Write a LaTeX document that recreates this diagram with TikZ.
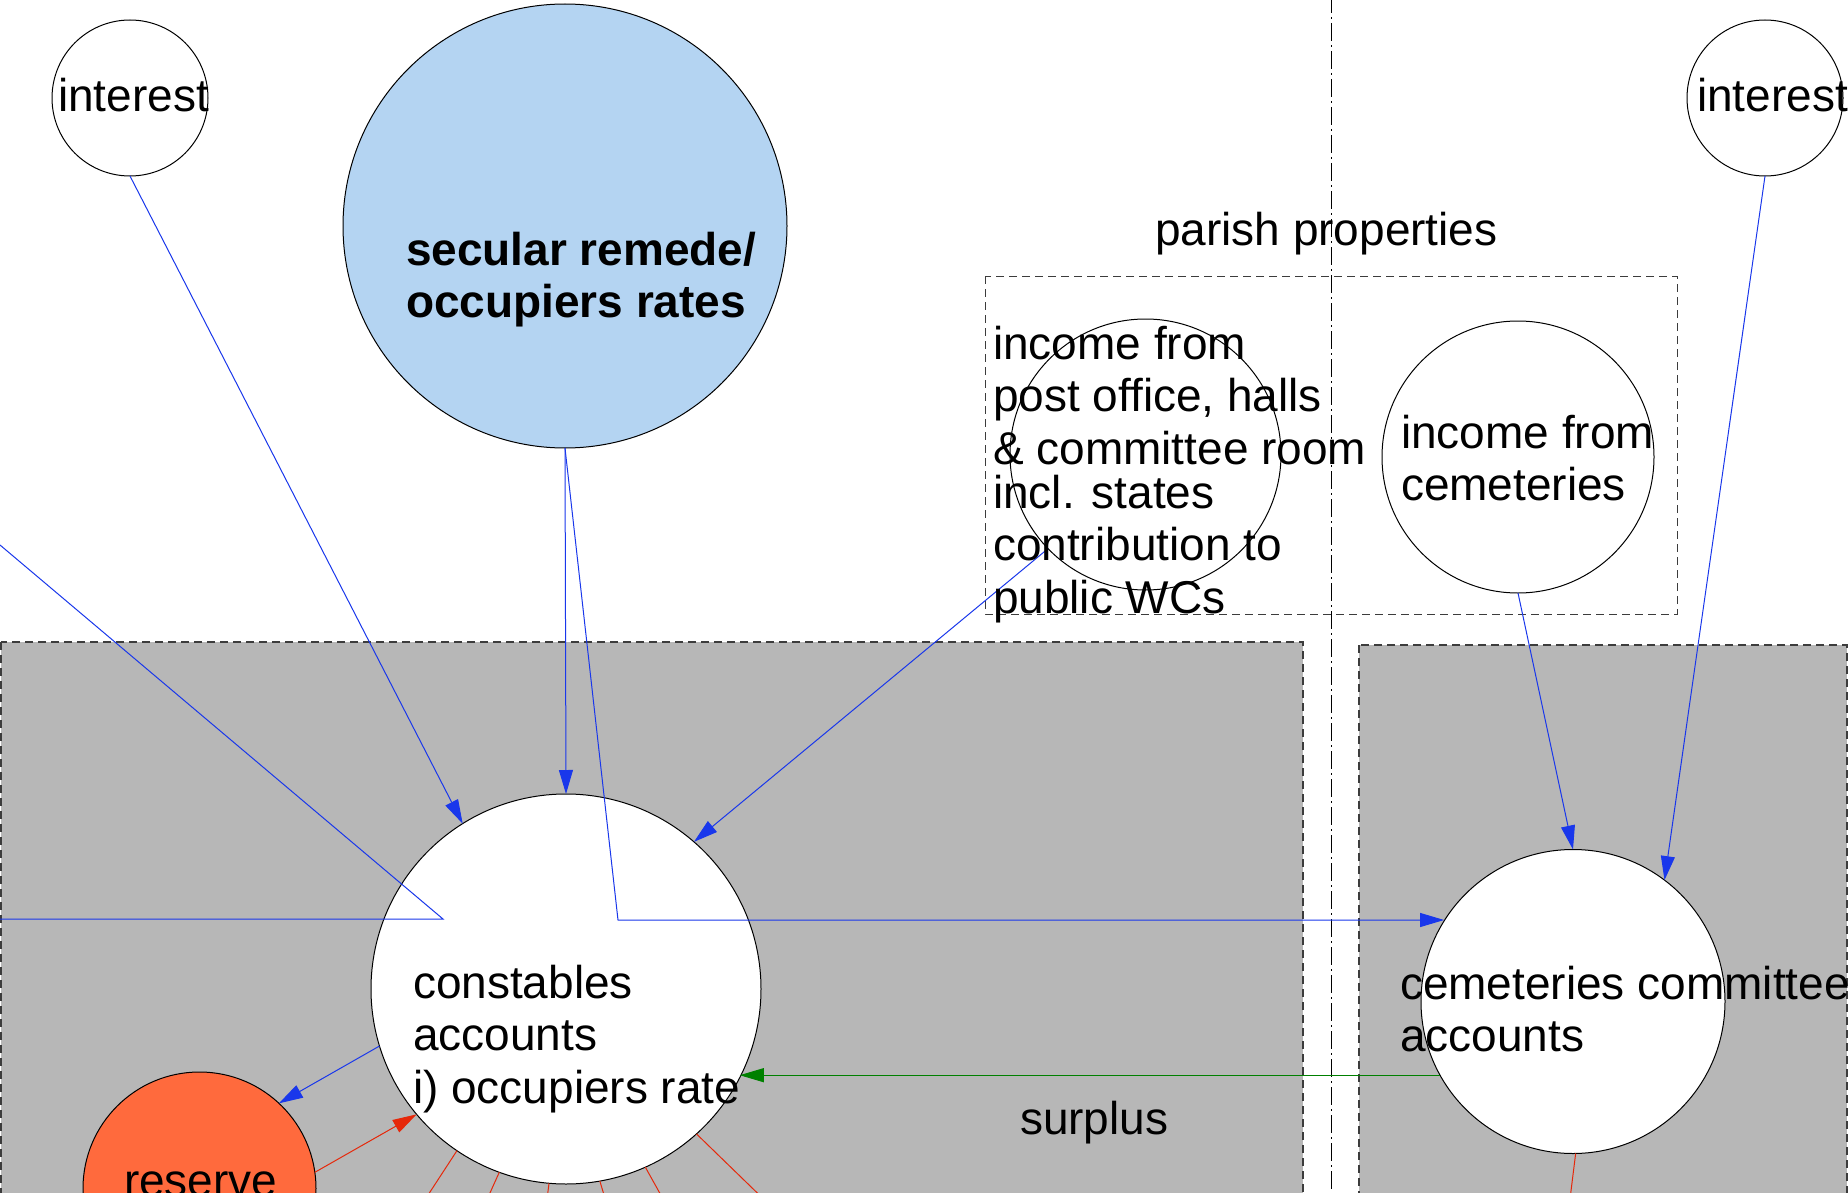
\documentclass[tikz,border=0pt]{standalone}
\usepackage{fontspec}
\setmainfont{Liberation Sans}
\usetikzlibrary{arrows.meta}
\definecolor{secblue}{RGB}{180,212,242}
\definecolor{boxgray}{RGB}{183,183,183}
\definecolor{lineblue}{RGB}{25,55,235}
\definecolor{linered}{RGB}{230,40,10}
\definecolor{linegreen}{RGB}{0,128,0}
\definecolor{resorange}{RGB}{255,106,61}
\definecolor{dashgray}{RGB}{60,60,60}
\newcommand\fsz{\fontsize{23}{26.25}\selectfont}
\begin{document}
\begin{tikzpicture}[x=0.5pt,y=-0.5pt,
  circ/.style={circle,draw=black,line width=0.5pt,fill=white,inner sep=0pt,outer sep=0pt},
  flow/.style={line width=0.5pt,-{Triangle[length=12pt,width=7pt]}},
  bflow/.style={flow,draw=lineblue},
  rflow/.style={flow,draw=linered},
  gflow/.style={flow,draw=linegreen},
  bline/.style={line width=0.5pt,draw=lineblue},
  rline/.style={line width=0.5pt,draw=linered},
  lbl/.style={anchor=base west,inner sep=0pt,outer sep=0pt,font=\fsz},
  grayzone/.style={fill=boxgray,draw=dashgray,line width=0.6pt,dash pattern=on 4pt off 2.5pt},
  propbox/.style={draw=dashgray,line width=0.5pt,dash pattern=on 4pt off 2.5pt},
  divider/.style={draw=black,line width=0.4pt,dash pattern=on 9pt off 2pt on 1pt off 2pt},
]
\useasboundingbox (0,0) rectangle (1848,1193);
\clip (0,0) rectangle (1848,1193);

% zones
\path[grayzone] (1,642) rectangle (1303,1215);
\path[grayzone] (1359,645) rectangle (1847,1215);
\path[propbox] (985,276) rectangle (1677,614);
\path[divider] (1331,-5) -- (1331,1200);

% circles
\node[circ,minimum size=78pt] (li) at (130,98) {};
\node[circ,minimum size=222pt,fill=secblue] (sec) at (565,226) {};
\node[circ,minimum size=78pt] (ri) at (1765,98) {};
\node[circ,minimum size=135.5pt] (inc) at (1145.5,454.5) {};
\node[circ,minimum size=136pt] (incc) at (1518,457) {};
\node[circ,minimum size=195pt] (cons) at (566,989) {};
\node[circ,minimum size=152pt] (cem) at (1573,1001.5) {};
\node[circ,minimum size=116.5pt,fill=resorange] (res) at (199.5,1188.5) {};

% helper coordinates
\coordinate (b1in) at (0,545);
\coordinate (b1) at (443,919);
\coordinate (b1out) at (-5,919);
\coordinate (b2) at (618,920);
\coordinate (r1) at (415,1215);
\coordinate (r2) at (480,1215);
\coordinate (r3) at (545,1215);
\coordinate (r4) at (610,1215);
\coordinate (r5) at (672,1215);
\coordinate (r6) at (780,1215);
\coordinate (r7) at (1568,1215);

% connectors
\draw[bflow] (li.south) -- (cons.122.7);
\draw[bflow] (sec.south) -- (cons.north);
\draw[bflow] (sec.south) -- (b2) -- (b2 -| cem.148);
\draw[bline] (b1in) -- (b1) -- (b1out);
\draw[bflow] (inc.224) -- (cons.49.7);
\draw[bflow] (incc.south) -- (cem.north);
\draw[bflow] (ri.south) -- (cem.53.7);
\draw[bflow] (cons.197) -- (res.47);
\draw[rflow] (res.8) -- (cons.220);
\draw[gflow] (cem.209) -- (cons.333 |- cem.209);
\draw[rline] (cons.236.4) -- (r1);
\draw[rline] (cons.250) -- (r2);
\draw[rline] (cons.265) -- (r3);
\draw[rline] (cons.280.6) -- (r4);
\draw[rline] (cons.294.7) -- (r5);
\draw[rline] (cons.312.5) -- (r6);
\draw[rline] (cem.271) -- (r7);

% texts
\node[lbl] (tli) at (58,112) {interest};
\node[lbl] (tri) at (1697,112) {interest};
\node[lbl,font=\fsz\bfseries] (tsec) at (406,265) {\begin{tabular}[t]{@{}l@{}}secular remede/\\occupiers rates\end{tabular}};
\node[lbl] (tpar) at (1155,245) {parish properties};
\node[lbl] (tinc) at (993,359) {\begin{tabular}[t]{@{}l@{}}income from\\post office, halls\\\& committee room\\[-4.25pt]incl. states\\contribution to\\public WCs\end{tabular}};
\node[lbl] (tincc) at (1401,448) {\begin{tabular}[t]{@{}l@{}}income from\\cemeteries\end{tabular}};
\node[lbl] (tcons) at (413,998) {\begin{tabular}[t]{@{}l@{}}constables\\accounts\\i) occupiers rate\end{tabular}};
\node[lbl] (tcem) at (1400,999) {\begin{tabular}[t]{@{}l@{}}cemeteries committee\\accounts\end{tabular}};
\node[lbl] (tres) at (124,1196) {reserve};
\node[lbl] (tsur) at (1020,1134) {surplus};
\end{tikzpicture}
\end{document}
